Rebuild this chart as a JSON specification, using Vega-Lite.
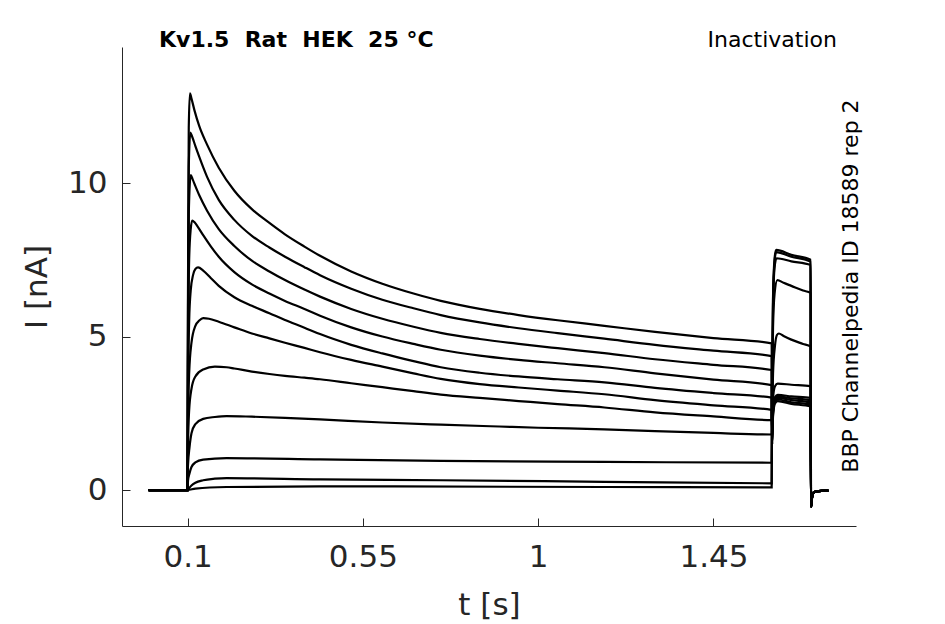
{
  "$schema": "https://vega.github.io/schema/vega-lite/v6.json",
  "width": 734,
  "height": 479,
  "autosize": {"type": "none"},
  "padding": {"left": 122, "top": 47, "right": 89, "bottom": 98},
  "background": "white",
  "datasets": {
    "traces": [
      {"k":1,"t":0,"I":0},{"k":1,"t":0.1,"I":0},{"k":1,"t":0.1008,"I":6},{"k":1,"t":0.103,"I":11.8},{"k":1,"t":0.106,"I":12.92},{"k":1,"t":0.11,"I":12.75},{"k":1,"t":0.118,"I":12.35},{"k":1,"t":0.13,"I":11.85},{"k":1,"t":0.15,"I":11.25},{"k":1,"t":0.18,"I":10.5},{"k":1,"t":0.22,"I":9.75},{"k":1,"t":0.265,"I":9.15},{"k":1,"t":0.31,"I":8.7},{"k":1,"t":0.35,"I":8.33},{"k":1,"t":0.4,"I":7.93},{"k":1,"t":0.44,"I":7.63},{"k":1,"t":0.52,"I":7.12},{"k":1,"t":0.6,"I":6.72},{"k":1,"t":0.68,"I":6.4},{"k":1,"t":0.75,"I":6.16},{"k":1,"t":0.85,"I":5.9},{"k":1,"t":0.95,"I":5.7},{"k":1,"t":1.05,"I":5.53},{"k":1,"t":1.17,"I":5.35},{"k":1,"t":1.3,"I":5.15},{"k":1,"t":1.45,"I":4.95},{"k":1,"t":1.5995,"I":4.78},{"k":1,"t":1.6005,"I":1.5},{"k":1,"t":1.603,"I":2.4},{"k":1,"t":1.608,"I":2.82},{"k":1,"t":1.615,"I":2.9},{"k":1,"t":1.65,"I":2.81},{"k":1,"t":1.6995,"I":2.72},{"k":1,"t":1.7005,"I":-0.55},{"k":1,"t":1.703,"I":-0.25},{"k":1,"t":1.707,"I":-0.08},{"k":1,"t":1.715,"I":-0.04},{"k":1,"t":1.745,"I":-0.02},

      {"k":2,"t":0,"I":0},{"k":2,"t":0.1,"I":0},{"k":2,"t":0.1008,"I":5},{"k":2,"t":0.103,"I":10.5},{"k":2,"t":0.107,"I":11.64},{"k":2,"t":0.112,"I":11.5},{"k":2,"t":0.12,"I":11.2},{"k":2,"t":0.13,"I":10.85},{"k":2,"t":0.15,"I":10.2},{"k":2,"t":0.18,"I":9.45},{"k":2,"t":0.22,"I":8.8},{"k":2,"t":0.265,"I":8.28},{"k":2,"t":0.31,"I":7.9},{"k":2,"t":0.35,"I":7.6},{"k":2,"t":0.4,"I":7.26},{"k":2,"t":0.44,"I":7.0},{"k":2,"t":0.52,"I":6.56},{"k":2,"t":0.6,"I":6.2},{"k":2,"t":0.68,"I":5.92},{"k":2,"t":0.75,"I":5.7},{"k":2,"t":0.85,"I":5.46},{"k":2,"t":0.95,"I":5.27},{"k":2,"t":1.05,"I":5.11},{"k":2,"t":1.17,"I":4.93},{"k":2,"t":1.3,"I":4.73},{"k":2,"t":1.45,"I":4.54},{"k":2,"t":1.5995,"I":4.36},{"k":2,"t":1.6005,"I":1.5},{"k":2,"t":1.603,"I":2.5},{"k":2,"t":1.608,"I":2.88},{"k":2,"t":1.615,"I":2.95},{"k":2,"t":1.65,"I":2.86},{"k":2,"t":1.6995,"I":2.78},{"k":2,"t":1.7005,"I":-0.55},{"k":2,"t":1.703,"I":-0.25},{"k":2,"t":1.707,"I":-0.08},{"k":2,"t":1.715,"I":-0.04},{"k":2,"t":1.745,"I":-0.02},

      {"k":3,"t":0,"I":0},{"k":3,"t":0.1,"I":0},{"k":3,"t":0.1008,"I":4},{"k":3,"t":0.103,"I":9},{"k":3,"t":0.108,"I":10.26},{"k":3,"t":0.113,"I":10.12},{"k":3,"t":0.12,"I":9.9},{"k":3,"t":0.13,"I":9.6},{"k":3,"t":0.15,"I":9.1},{"k":3,"t":0.18,"I":8.5},{"k":3,"t":0.22,"I":7.95},{"k":3,"t":0.265,"I":7.47},{"k":3,"t":0.31,"I":7.12},{"k":3,"t":0.35,"I":6.84},{"k":3,"t":0.4,"I":6.53},{"k":3,"t":0.44,"I":6.3},{"k":3,"t":0.52,"I":5.9},{"k":3,"t":0.6,"I":5.58},{"k":3,"t":0.68,"I":5.32},{"k":3,"t":0.75,"I":5.12},{"k":3,"t":0.85,"I":4.92},{"k":3,"t":0.95,"I":4.76},{"k":3,"t":1.05,"I":4.62},{"k":3,"t":1.17,"I":4.46},{"k":3,"t":1.3,"I":4.26},{"k":3,"t":1.45,"I":4.08},{"k":3,"t":1.5995,"I":3.91},{"k":3,"t":1.6005,"I":1.5},{"k":3,"t":1.603,"I":2.55},{"k":3,"t":1.608,"I":2.93},{"k":3,"t":1.615,"I":3.0},{"k":3,"t":1.65,"I":2.93},{"k":3,"t":1.6995,"I":2.85},{"k":3,"t":1.7005,"I":-0.55},{"k":3,"t":1.703,"I":-0.25},{"k":3,"t":1.707,"I":-0.08},{"k":3,"t":1.715,"I":-0.04},{"k":3,"t":1.745,"I":-0.02},

      {"k":4,"t":0,"I":0},{"k":4,"t":0.1,"I":0},{"k":4,"t":0.1008,"I":3.5},{"k":4,"t":0.104,"I":7.5},{"k":4,"t":0.108,"I":8.5},{"k":4,"t":0.112,"I":8.78},{"k":4,"t":0.118,"I":8.72},{"k":4,"t":0.125,"I":8.6},{"k":4,"t":0.14,"I":8.3},{"k":4,"t":0.16,"I":7.93},{"k":4,"t":0.18,"I":7.6},{"k":4,"t":0.22,"I":7.1},{"k":4,"t":0.265,"I":6.7},{"k":4,"t":0.31,"I":6.4},{"k":4,"t":0.35,"I":6.16},{"k":4,"t":0.4,"I":5.9},{"k":4,"t":0.44,"I":5.68},{"k":4,"t":0.52,"I":5.3},{"k":4,"t":0.6,"I":5.0},{"k":4,"t":0.68,"I":4.76},{"k":4,"t":0.75,"I":4.57},{"k":4,"t":0.85,"I":4.38},{"k":4,"t":0.95,"I":4.24},{"k":4,"t":1.05,"I":4.13},{"k":4,"t":1.17,"I":4.0},{"k":4,"t":1.3,"I":3.8},{"k":4,"t":1.45,"I":3.6},{"k":4,"t":1.5995,"I":3.42},{"k":4,"t":1.6005,"I":1.6},{"k":4,"t":1.603,"I":2.6},{"k":4,"t":1.608,"I":2.98},{"k":4,"t":1.615,"I":3.05},{"k":4,"t":1.65,"I":2.99},{"k":4,"t":1.6995,"I":2.92},{"k":4,"t":1.7005,"I":-0.55},{"k":4,"t":1.703,"I":-0.25},{"k":4,"t":1.707,"I":-0.08},{"k":4,"t":1.715,"I":-0.04},{"k":4,"t":1.745,"I":-0.02},

      {"k":5,"t":0,"I":0},{"k":5,"t":0.1,"I":0},{"k":5,"t":0.101,"I":3},{"k":5,"t":0.104,"I":5.5},{"k":5,"t":0.108,"I":6.5},{"k":5,"t":0.114,"I":7.0},{"k":5,"t":0.12,"I":7.2},{"k":5,"t":0.127,"I":7.25},{"k":5,"t":0.14,"I":7.15},{"k":5,"t":0.16,"I":6.9},{"k":5,"t":0.18,"I":6.65},{"k":5,"t":0.22,"I":6.28},{"k":5,"t":0.265,"I":6.0},{"k":5,"t":0.31,"I":5.76},{"k":5,"t":0.35,"I":5.54},{"k":5,"t":0.4,"I":5.29},{"k":5,"t":0.44,"I":5.08},{"k":5,"t":0.52,"I":4.73},{"k":5,"t":0.6,"I":4.45},{"k":5,"t":0.68,"I":4.2},{"k":5,"t":0.75,"I":4.0},{"k":5,"t":0.85,"I":3.82},{"k":5,"t":0.95,"I":3.7},{"k":5,"t":1.05,"I":3.61},{"k":5,"t":1.17,"I":3.51},{"k":5,"t":1.3,"I":3.33},{"k":5,"t":1.45,"I":3.16},{"k":5,"t":1.5995,"I":3.01},{"k":5,"t":1.6005,"I":1.8},{"k":5,"t":1.603,"I":2.7},{"k":5,"t":1.608,"I":3.03},{"k":5,"t":1.615,"I":3.1},{"k":5,"t":1.65,"I":3.05},{"k":5,"t":1.6995,"I":3.0},{"k":5,"t":1.7005,"I":-0.55},{"k":5,"t":1.703,"I":-0.25},{"k":5,"t":1.707,"I":-0.08},{"k":5,"t":1.715,"I":-0.04},{"k":5,"t":1.745,"I":-0.02},

      {"k":6,"t":0,"I":0},{"k":6,"t":0.1,"I":0},{"k":6,"t":0.101,"I":2},{"k":6,"t":0.104,"I":3.8},{"k":6,"t":0.11,"I":4.8},{"k":6,"t":0.12,"I":5.35},{"k":6,"t":0.13,"I":5.52},{"k":6,"t":0.14,"I":5.6},{"k":6,"t":0.155,"I":5.58},{"k":6,"t":0.18,"I":5.48},{"k":6,"t":0.22,"I":5.3},{"k":6,"t":0.265,"I":5.1},{"k":6,"t":0.31,"I":4.94},{"k":6,"t":0.35,"I":4.8},{"k":6,"t":0.4,"I":4.63},{"k":6,"t":0.44,"I":4.49},{"k":6,"t":0.52,"I":4.24},{"k":6,"t":0.6,"I":4.02},{"k":6,"t":0.68,"I":3.8},{"k":6,"t":0.75,"I":3.62},{"k":6,"t":0.85,"I":3.45},{"k":6,"t":0.95,"I":3.34},{"k":6,"t":1.05,"I":3.24},{"k":6,"t":1.17,"I":3.12},{"k":6,"t":1.3,"I":2.93},{"k":6,"t":1.45,"I":2.76},{"k":6,"t":1.5995,"I":2.61},{"k":6,"t":1.6005,"I":2.0},{"k":6,"t":1.603,"I":3.0},{"k":6,"t":1.608,"I":3.38},{"k":6,"t":1.615,"I":3.47},{"k":6,"t":1.65,"I":3.43},{"k":6,"t":1.6995,"I":3.38},{"k":6,"t":1.7005,"I":-0.55},{"k":6,"t":1.703,"I":-0.25},{"k":6,"t":1.707,"I":-0.08},{"k":6,"t":1.715,"I":-0.04},{"k":6,"t":1.745,"I":-0.02},

      {"k":7,"t":0,"I":0},{"k":7,"t":0.1,"I":0},{"k":7,"t":0.101,"I":1.5},{"k":7,"t":0.104,"I":2.6},{"k":7,"t":0.11,"I":3.3},{"k":7,"t":0.12,"I":3.7},{"k":7,"t":0.14,"I":3.93},{"k":7,"t":0.17,"I":4.02},{"k":7,"t":0.2,"I":4.0},{"k":7,"t":0.22,"I":3.96},{"k":7,"t":0.265,"I":3.86},{"k":7,"t":0.31,"I":3.78},{"k":7,"t":0.35,"I":3.72},{"k":7,"t":0.4,"I":3.66},{"k":7,"t":0.44,"I":3.61},{"k":7,"t":0.52,"I":3.48},{"k":7,"t":0.6,"I":3.35},{"k":7,"t":0.68,"I":3.22},{"k":7,"t":0.75,"I":3.11},{"k":7,"t":0.85,"I":3.0},{"k":7,"t":0.95,"I":2.9},{"k":7,"t":1.05,"I":2.8},{"k":7,"t":1.17,"I":2.69},{"k":7,"t":1.3,"I":2.53},{"k":7,"t":1.45,"I":2.4},{"k":7,"t":1.5995,"I":2.28},{"k":7,"t":1.6005,"I":2.6},{"k":7,"t":1.603,"I":3.8},{"k":7,"t":1.608,"I":4.7},{"k":7,"t":1.613,"I":5.05},{"k":7,"t":1.618,"I":5.1},{"k":7,"t":1.63,"I":5.02},{"k":7,"t":1.65,"I":4.9},{"k":7,"t":1.68,"I":4.76},{"k":7,"t":1.6995,"I":4.67},{"k":7,"t":1.7005,"I":-0.55},{"k":7,"t":1.703,"I":-0.25},{"k":7,"t":1.707,"I":-0.08},{"k":7,"t":1.715,"I":-0.04},{"k":7,"t":1.745,"I":-0.02},

      {"k":8,"t":0,"I":0},{"k":8,"t":0.1,"I":0},{"k":8,"t":0.101,"I":0.8},{"k":8,"t":0.105,"I":1.4},{"k":8,"t":0.11,"I":1.85},{"k":8,"t":0.12,"I":2.15},{"k":8,"t":0.14,"I":2.32},{"k":8,"t":0.17,"I":2.38},{"k":8,"t":0.2,"I":2.41},{"k":8,"t":0.265,"I":2.39},{"k":8,"t":0.35,"I":2.35},{"k":8,"t":0.44,"I":2.3},{"k":8,"t":0.6,"I":2.2},{"k":8,"t":0.75,"I":2.13},{"k":8,"t":0.9,"I":2.07},{"k":8,"t":1.0,"I":2.03},{"k":8,"t":1.17,"I":1.98},{"k":8,"t":1.3,"I":1.92},{"k":8,"t":1.45,"I":1.86},{"k":8,"t":1.5995,"I":1.81},{"k":8,"t":1.6005,"I":3},{"k":8,"t":1.603,"I":5.3},{"k":8,"t":1.607,"I":6.4},{"k":8,"t":1.614,"I":6.84},{"k":8,"t":1.63,"I":6.75},{"k":8,"t":1.65,"I":6.65},{"k":8,"t":1.68,"I":6.5},{"k":8,"t":1.6995,"I":6.42},{"k":8,"t":1.7005,"I":-0.55},{"k":8,"t":1.703,"I":-0.25},{"k":8,"t":1.707,"I":-0.08},{"k":8,"t":1.715,"I":-0.04},{"k":8,"t":1.745,"I":-0.02},

      {"k":9,"t":0,"I":0},{"k":9,"t":0.1,"I":0},{"k":9,"t":0.101,"I":0.3},{"k":9,"t":0.105,"I":0.55},{"k":9,"t":0.11,"I":0.75},{"k":9,"t":0.12,"I":0.9},{"k":9,"t":0.14,"I":0.99},{"k":9,"t":0.2,"I":1.04},{"k":9,"t":0.44,"I":1.0},{"k":9,"t":0.75,"I":0.95},{"k":9,"t":1.17,"I":0.92},{"k":9,"t":1.5995,"I":0.89},{"k":9,"t":1.6005,"I":3},{"k":9,"t":1.603,"I":6},{"k":9,"t":1.607,"I":7.25},{"k":9,"t":1.612,"I":7.55},{"k":9,"t":1.65,"I":7.45},{"k":9,"t":1.6995,"I":7.33},{"k":9,"t":1.7005,"I":-0.55},{"k":9,"t":1.703,"I":-0.25},{"k":9,"t":1.707,"I":-0.08},{"k":9,"t":1.715,"I":-0.04},{"k":9,"t":1.745,"I":-0.02},

      {"k":10,"t":0,"I":0},{"k":10,"t":0.1,"I":0},{"k":10,"t":0.105,"I":0.08},{"k":10,"t":0.11,"I":0.15},{"k":10,"t":0.12,"I":0.24},{"k":10,"t":0.14,"I":0.32},{"k":10,"t":0.17,"I":0.37},{"k":10,"t":0.2,"I":0.39},{"k":10,"t":0.44,"I":0.35},{"k":10,"t":0.75,"I":0.32},{"k":10,"t":1.17,"I":0.27},{"k":10,"t":1.5995,"I":0.22},{"k":10,"t":1.6005,"I":3},{"k":10,"t":1.603,"I":6.2},{"k":10,"t":1.607,"I":7.45},{"k":10,"t":1.611,"I":7.75},{"k":10,"t":1.65,"I":7.6},{"k":10,"t":1.6995,"I":7.44},{"k":10,"t":1.7005,"I":-0.55},{"k":10,"t":1.703,"I":-0.25},{"k":10,"t":1.707,"I":-0.08},{"k":10,"t":1.715,"I":-0.04},{"k":10,"t":1.745,"I":-0.02},

      {"k":11,"t":0,"I":0},{"k":11,"t":0.1,"I":0},{"k":11,"t":0.12,"I":0.05},{"k":11,"t":0.2,"I":0.1},{"k":11,"t":0.44,"I":0.12},{"k":11,"t":1.17,"I":0.1},{"k":11,"t":1.5995,"I":0.09},{"k":11,"t":1.6005,"I":3},{"k":11,"t":1.603,"I":6.3},{"k":11,"t":1.607,"I":7.55},{"k":11,"t":1.611,"I":7.82},{"k":11,"t":1.65,"I":7.66},{"k":11,"t":1.6995,"I":7.5},{"k":11,"t":1.7005,"I":-0.55},{"k":11,"t":1.703,"I":-0.25},{"k":11,"t":1.707,"I":-0.08},{"k":11,"t":1.715,"I":-0.04},{"k":11,"t":1.745,"I":-0.02}
    ]
  },
  "layer": [
    {
      "data": {"name": "traces"},
      "mark": {"type": "line", "color": "black", "strokeWidth": 2.2, "interpolate": "monotone"},
      "encoding": {
        "x": {
          "field": "t",
          "type": "quantitative",
          "scale": {"domain": [-0.0684, 1.816], "nice": false, "zero": false},
          "axis": {"values": [0.1, 0.55, 1, 1.45], "format": ".3~g", "title": "t [s]", "labelPadding": 24, "titlePadding": 18}
        },
        "y": {
          "field": "I",
          "type": "quantitative",
          "scale": {"domain": [-1.17, 14.43], "nice": false, "zero": false},
          "axis": {"values": [0, 5, 10], "title": "I [nA]", "labelPadding": 23, "titlePadding": 14}
        },
        "detail": {"field": "k", "type": "nominal"},
        "order": {"field": "t", "type": "quantitative"}
      }
    },
    {
      "data": {"values": [{}]},
      "mark": {
        "type": "text",
        "text": "Kv1.5\u00a0\u00a0Rat\u00a0\u00a0HEK\u00a0\u00a025\u00a0°C",
        "font": "DejaVu Sans",
        "fontSize": 22,
        "fontWeight": "bold",
        "color": "black",
        "align": "left",
        "baseline": "alphabetic"
      },
      "encoding": {
        "x": {"datum": 0.0266},
        "y": {"datum": 14.43}
      }
    },
    {
      "data": {"values": [{}]},
      "mark": {
        "type": "text",
        "text": "Inactivation",
        "font": "DejaVu Sans",
        "fontSize": 22,
        "color": "black",
        "align": "right",
        "baseline": "alphabetic"
      },
      "encoding": {
        "x": {"datum": 1.767},
        "y": {"datum": 14.43}
      }
    },
    {
      "data": {"values": [{}]},
      "mark": {
        "type": "text",
        "text": "BBP Channelpedia ID 18589 rep 2",
        "font": "DejaVu Sans",
        "fontSize": 22,
        "color": "black",
        "angle": 270,
        "align": "center",
        "baseline": "alphabetic"
      },
      "encoding": {
        "x": {"datum": 1.821},
        "y": {"datum": 6.645}
      }
    }
  ],
  "config": {
    "view": {"stroke": null},
    "axis": {
      "grid": false,
      "domainColor": "#262626",
      "domainWidth": 1,
      "tickColor": "#262626",
      "tickWidth": 1,
      "tickSize": -8,
      "labelFont": "DejaVu Sans",
      "labelFontSize": 31,
      "labelColor": "#262626",
      "labelFlush": false,
      "labelOverlap": false,
      "titleFont": "DejaVu Sans",
      "titleFontSize": 31,
      "titleFontWeight": "normal",
      "titleColor": "#262626"
    }
  }
}
